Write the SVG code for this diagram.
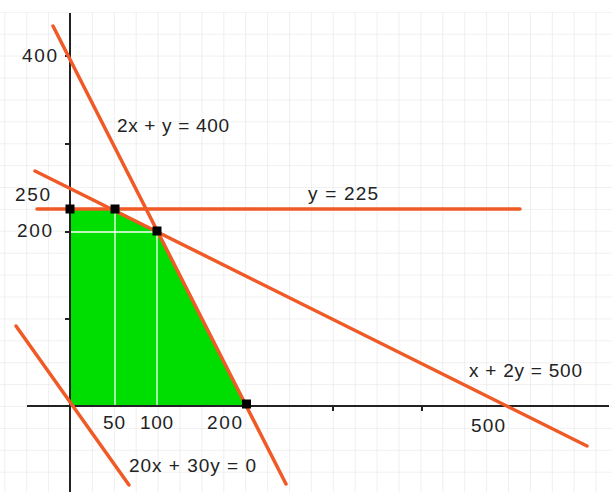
<svg xmlns="http://www.w3.org/2000/svg" width="612" height="492" viewBox="0 0 612 492">
  <defs>
    <pattern id="grid" x="70" y="406" width="21.9" height="21.9" patternUnits="userSpaceOnUse">
      <path d="M0 0 V21.9 M0 0 H21.9" stroke="#e4e4e4" stroke-width="1.2" fill="none"/>
    </pattern>
  </defs>
  <style>
    .lbl { font-family: "Liberation Sans", Arial, sans-serif; font-size: 19px; fill: #222; }
    .con { stroke: #ef5a27; stroke-width: 3.5; stroke-linecap: round; fill: none; }
    .axis { stroke: #222; stroke-width: 2; fill: none; }
    .pt { fill: #000; }
    .wl { stroke: #ffffff; stroke-width: 1.3; }
  </style>
  <rect width="612" height="492" fill="#fff"/>
  <rect x="0" y="12" width="612" height="480" fill="url(#grid)"/>

  <g id="feasible-region">
    <polygon points="70,209 115,209 157,231 246,406 70,406" fill="#00dd00"/>
    <line class="wl" x1="115" y1="209" x2="115" y2="406"/>
    <line class="wl" x1="157" y1="231" x2="157" y2="406"/>
    <line class="wl" x1="70" y1="232" x2="157" y2="232"/>
  </g>

  <g id="axes">
    <line class="axis" x1="70" y1="13" x2="70" y2="492"/>
    <line class="axis" x1="27" y1="406" x2="609" y2="406"/>
    <path class="axis" stroke-width="1.5" d="M65 56 H70 M65 144 H70 M65 232 H70 M65 319 H70 M333 406 V411 M422 406 V411"/>
  </g>

  <g id="connectors">
    <line class="con" x1="53" y1="26" x2="286" y2="484"/>
    <line class="con" x1="35" y1="171" x2="587" y2="446"/>
    <line class="con" x1="37" y1="209" x2="520" y2="209"/>
    <line class="con" x1="16" y1="326" x2="129" y2="485"/>
  </g>

  <g id="vertices">
    <rect class="pt" x="65.5" y="204.5" width="9" height="9"/>
    <rect class="pt" x="110.5" y="204.5" width="9" height="9"/>
    <rect class="pt" x="152.5" y="226.5" width="9" height="9"/>
    <rect class="pt" x="242" y="399.5" width="9" height="9"/>
  </g>

  <g id="labels">
    <text class="lbl" x="22" y="62" textLength="35">400</text>
    <text class="lbl" x="15" y="201" textLength="35">250</text>
    <text class="lbl" x="17" y="237" textLength="35">200</text>
    <text class="lbl" x="117" y="132" textLength="112">2x + y = 400</text>
    <text class="lbl" x="308" y="200" textLength="70">y = 225</text>
    <text class="lbl" x="469" y="377" textLength="113">x + 2y = 500</text>
    <text class="lbl" x="103" y="429" textLength="22">50</text>
    <text class="lbl" x="140" y="429" textLength="33">100</text>
    <text class="lbl" x="207" y="429" textLength="35">200</text>
    <text class="lbl" x="471" y="432" textLength="34">500</text>
    <text class="lbl" x="129" y="472" textLength="127">20x + 30y = 0</text>
  </g>
</svg>
